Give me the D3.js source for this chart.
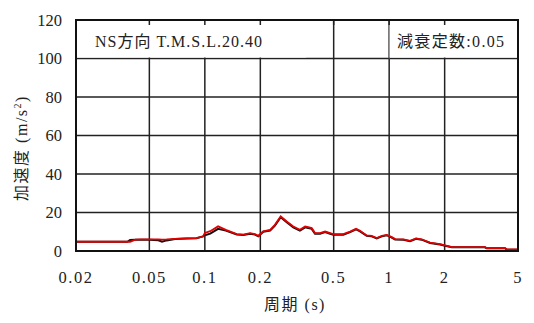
<!DOCTYPE html>
<html><head><meta charset="utf-8">
<script src="https://cdn.jsdelivr.net/npm/d3@7"></script>
<style>
body{margin:0;background:#fff;}
</style></head>
<body><svg id="c" width="534" height="323"></svg>
<script>
const periods = [0.02,0.03,0.038,0.0393,0.042,0.045,0.05,0.056,0.0586,0.062,0.069,0.08,0.09,0.0977,0.1,0.107,0.118,0.13,0.149,0.162,0.176,0.187,0.195,0.2075,0.226,0.240,0.258,0.278,0.302,0.328,0.350,0.364,0.380,0.396,0.422,0.449,0.478,0.498,0.564,0.614,0.661,0.695,0.755,0.804,0.856,0.912,0.970,1.033,1.077,1.194,1.298,1.40,1.50,1.667,1.888,2.01,2.19,3.31,3.38,4.25,4.35,5.0];
const blackVals = [4.8,4.8,4.8,5.7,5.8,5.9,5.9,5.6,4.8,5.5,6.2,6.5,6.6,7.6,8.2,9.0,11.5,10.6,8.6,8.3,9.0,8.5,7.6,10.0,10.6,13.2,17.6,15.0,12.3,10.6,12.3,11.9,11.5,9.0,9.0,9.8,9.0,8.5,8.5,9.8,11.2,10.2,7.9,7.6,6.5,7.6,8.2,7.0,6.0,5.8,5.1,6.3,5.9,4.2,3.4,2.7,1.9,1.9,1.4,1.4,0.7,0.7];
const redVals = [4.8,4.8,4.8,4.8,5.9,6.0,6.0,6.0,5.9,6.0,6.3,6.6,6.7,7.5,9.4,10.3,12.8,11.0,8.8,8.5,9.3,8.8,7.9,10.2,11.0,13.6,18.0,15.3,12.7,11.0,12.7,12.4,11.9,9.3,9.3,10.1,9.3,8.8,8.8,10.1,11.5,10.5,8.1,7.9,6.7,7.9,8.4,7.2,6.2,6.0,5.3,6.5,6.1,4.4,3.6,2.9,2.0,2.0,1.5,1.5,0.8,0.8];
const xTicks = [0.02,0.05,0.1,0.2,0.5,1,2,5];
const xTickLabels = ["0.02","0.05","0.1","0.2","0.5","1","2","5"];
const yTicks = [0,20,40,60,80,100,120];
const titleText = "NS方向 T.M.S.L.20.40";
const dampText = "減衰定数:0.05";

const FONT = "'Liberation Serif', 'DejaVu Serif', 'Noto Sans CJK JP', serif";
const svg = d3.select("#c");
const L=76,R=518,T=20,B=251;
const x = d3.scaleLog().domain([0.02,5]).range([L,R]);
const y = d3.scaleLinear().domain([0,120]).range([B,T]);

// grid
svg.append("g").selectAll("line").data(xTicks.slice(1,-1)).join("line")
  .attr("x1",d=>x(d)).attr("x2",d=>x(d)).attr("y1",T).attr("y2",B)
  .attr("stroke","#222").attr("stroke-width",1.5);
svg.append("g").selectAll("line").data(yTicks.slice(1,-1)).join("line")
  .attr("x1",L).attr("x2",R).attr("y1",d=>y(d)).attr("y2",d=>y(d))
  .attr("stroke","#222").attr("stroke-width",1.5);

// label boxes in the top row
svg.append("rect").attr("x",L+1).attr("y",T+1).attr("width",x(0.35)-L).attr("height",y(100)-T-2).attr("fill","#fff");
svg.append("rect").attr("x",x(1)).attr("y",T+1).attr("width",R-x(1)-1).attr("height",y(100)-T-2).attr("fill","#fff");
svg.append("line").attr("x1",x(1)).attr("x2",x(1)).attr("y1",T).attr("y2",y(100)).attr("stroke","#777").attr("stroke-width",1);
// top inward ticks
svg.append("g").selectAll("line").data(xTicks.slice(1,-1)).join("line")
  .attr("x1",d=>x(d)).attr("x2",d=>x(d)).attr("y1",T).attr("y2",T+5)
  .attr("stroke","#222").attr("stroke-width",1.5);

svg.append("text").attr("x",95).attr("y",47).attr("font-family",FONT).attr("font-size",16)
  .attr("textLength",167).attr("lengthAdjust","spacing").attr("fill","#222").text(titleText);
svg.append("text").attr("x",397).attr("y",47).attr("font-family",FONT).attr("font-size",16)
  .attr("textLength",107).attr("lengthAdjust","spacing").attr("fill","#222").text(dampText);

// lines
const line = (vals)=>d3.line().x((d,i)=>x(periods[i])).y(d=>y(d))(vals);
svg.append("path").attr("d",line(blackVals)).attr("fill","none").attr("stroke","#111").attr("stroke-width",2);
svg.append("path").attr("d",line(redVals)).attr("fill","none").attr("stroke","#e00000").attr("stroke-width",1.8);

// frame
svg.append("rect").attr("x",L).attr("y",T).attr("width",R-L).attr("height",B-T)
  .attr("fill","none").attr("stroke","#111").attr("stroke-width",2);

// axes labels
svg.append("g").selectAll("text").data(yTicks).join("text")
  .attr("x",62).attr("y",d=>y(d)).attr("dy","0.36em").attr("text-anchor","end")
  .attr("font-family",FONT).attr("font-size",16.5).attr("fill","#222").text(d=>d);
svg.append("g").selectAll("text").data(xTicks).join("text")
  .attr("x",d=>x(d)).attr("y",283).attr("text-anchor","middle")
  .attr("font-family",FONT).attr("font-size",16.5).attr("letter-spacing",1.5).attr("fill","#222")
  .text((d,i)=>xTickLabels[i]);

svg.append("text").attr("x",295).attr("y",310).attr("text-anchor","middle")
  .attr("font-family",FONT).attr("font-size",16).attr("letter-spacing",1.5).attr("fill","#222").text("周期 (s)");
const yt = svg.append("text").attr("transform","translate(27,148) rotate(-90)").attr("text-anchor","middle")
  .attr("font-family",FONT).attr("font-size",16).attr("letter-spacing",1.5).attr("fill","#222");
yt.append("tspan").text("加速度 (m/s");
yt.append("tspan").attr("font-size",10).attr("dy",-6).text("2");
yt.append("tspan").attr("dy",6).text(")");
</script></body></html>
